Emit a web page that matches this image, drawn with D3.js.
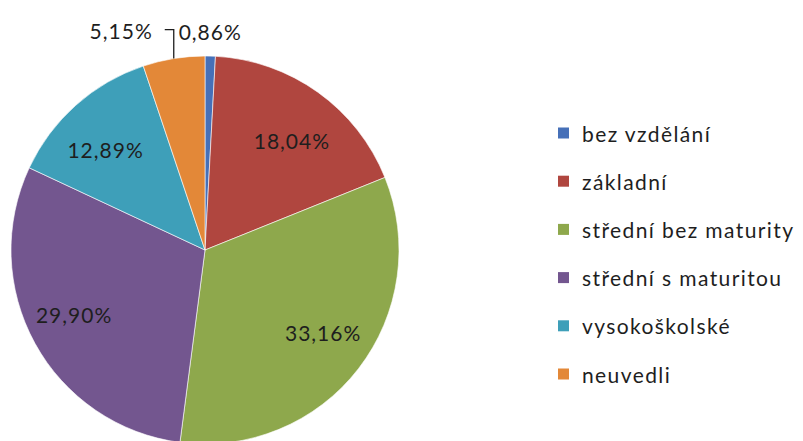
<!DOCTYPE html>
<html>
<head>
<meta charset="utf-8">
<script src="https://cdn.jsdelivr.net/npm/d3@7"></script>
<style>
  body { margin: 0; background: #fff; }
  svg { display: block; }
  text { font-family: Lato, "Open Sans", sans-serif; fill: #1e1e1e; }
</style>
</head>
<body>
<svg id="canvas"></svg>
<script>
//--data
let categories = ['bez vzdělání', 'základní', 'střední bez maturity', 'střední s maturitou', 'vysokoškolské', 'neuvedli'];
let shares = [0.86, 18.04, 33.16, 29.90, 12.89, 5.15];
let colors = ['#4670b8', '#b0463f', '#8ea84c', '#73568f', '#3e9fb9', '#e38838'];
//--

//--canvas
let width = 803;
let height = 441;
let cx = 205, cy = 250, radius = 194;

let canvas = d3.select('#canvas')
               .attr('width', width)
               .attr('height', height)

let color = d3.scaleOrdinal()
              .domain(categories)
              .range(colors)

let fmt = v => d3.format('.2f')(v).replace('.', ',') + '%'
//--

let drawPie = () => {

    let rows = categories.map((c, i) => ({name: c, value: shares[i]}))

    let pie = d3.pie()
                .value(d => d.value)
                .sort(null)

    let arcs = pie(rows)

    let arc = d3.arc().innerRadius(0).outerRadius(radius)
    let labelArc = d3.arc().innerRadius(radius * 0.77).outerRadius(radius * 0.77)
    let edgeArc = d3.arc().innerRadius(radius).outerRadius(radius)

    let g = canvas.append('g')
                  .attr('transform', 'translate(' + cx + ',' + cy + ')')

    g.selectAll('path')
     .data(arcs)
     .enter()
     .append('path')
     .attr('d', arc)
     .attr('fill', d => color(d.data.name))
     .attr('stroke', '#ffffff')
     .attr('stroke-width', 0.6)

    // labels inside the bigger slices (pulled a bit toward the middle vertically, like excel does)
    g.selectAll('text.inside')
     .data(arcs.filter(d => d.data.value > 6))
     .enter()
     .append('text')
     .attr('class', 'inside')
     .attr('transform', d => {
         let c = labelArc.centroid(d)
         return 'translate(' + c[0] + ',' + (c[1] * 0.9) + ')'
     })
     .attr('text-anchor', 'middle')
     .attr('dominant-baseline', 'central')
     .attr('font-size', 21)
     .attr('letter-spacing', 1)
     .text(d => fmt(d.data.value))

    // small slices: labels outside
    let small = arcs.filter(d => d.data.value <= 6)
    small.forEach(d => {
        let p = edgeArc.centroid(d)
        if (d.index === 0) {
            g.append('text')
             .attr('x', p[0])
             .attr('y', p[1] - 25)
             .attr('text-anchor', 'middle')
             .attr('dominant-baseline', 'central')
             .attr('font-size', 21)
             .attr('letter-spacing', 1)
             .text(fmt(d.data.value))
        } else {
            let line = [p, [p[0], p[1] - 29], [p[0] - 9, p[1] - 29]]
            g.append('path')
             .attr('d', d3.line()(line))
             .attr('fill', 'none')
             .attr('stroke', '#1e1e1e')
             .attr('stroke-width', 1.3)
            g.append('text')
             .attr('x', p[0] - 21)
             .attr('y', p[1] - 28)
             .attr('text-anchor', 'end')
             .attr('dominant-baseline', 'central')
             .attr('font-size', 21)
             .attr('letter-spacing', 1)
             .text(fmt(d.data.value))
        }
    })

    //--legend
    let legendY = d3.scalePoint()
                    .domain(categories)
                    .range([133, 374])

    let legend = canvas.append('g')
                       .attr('transform', 'translate(558, 0)')

    let item = legend.selectAll('g')
                     .data(categories)
                     .enter()
                     .append('g')
                     .attr('transform', d => 'translate(0,' + legendY(d) + ')')

    item.append('rect')
        .attr('x', 0)
        .attr('y', -5.5)
        .attr('width', 11)
        .attr('height', 11)
        .attr('fill', d => color(d))

    item.append('text')
        .attr('x', 24)
        .attr('y', 0)
        .attr('dominant-baseline', 'central')
        .attr('font-size', 21)
        .attr('letter-spacing', 1.4)
        .text(d => d)
}

drawPie()
</script>
</body>
</html>
